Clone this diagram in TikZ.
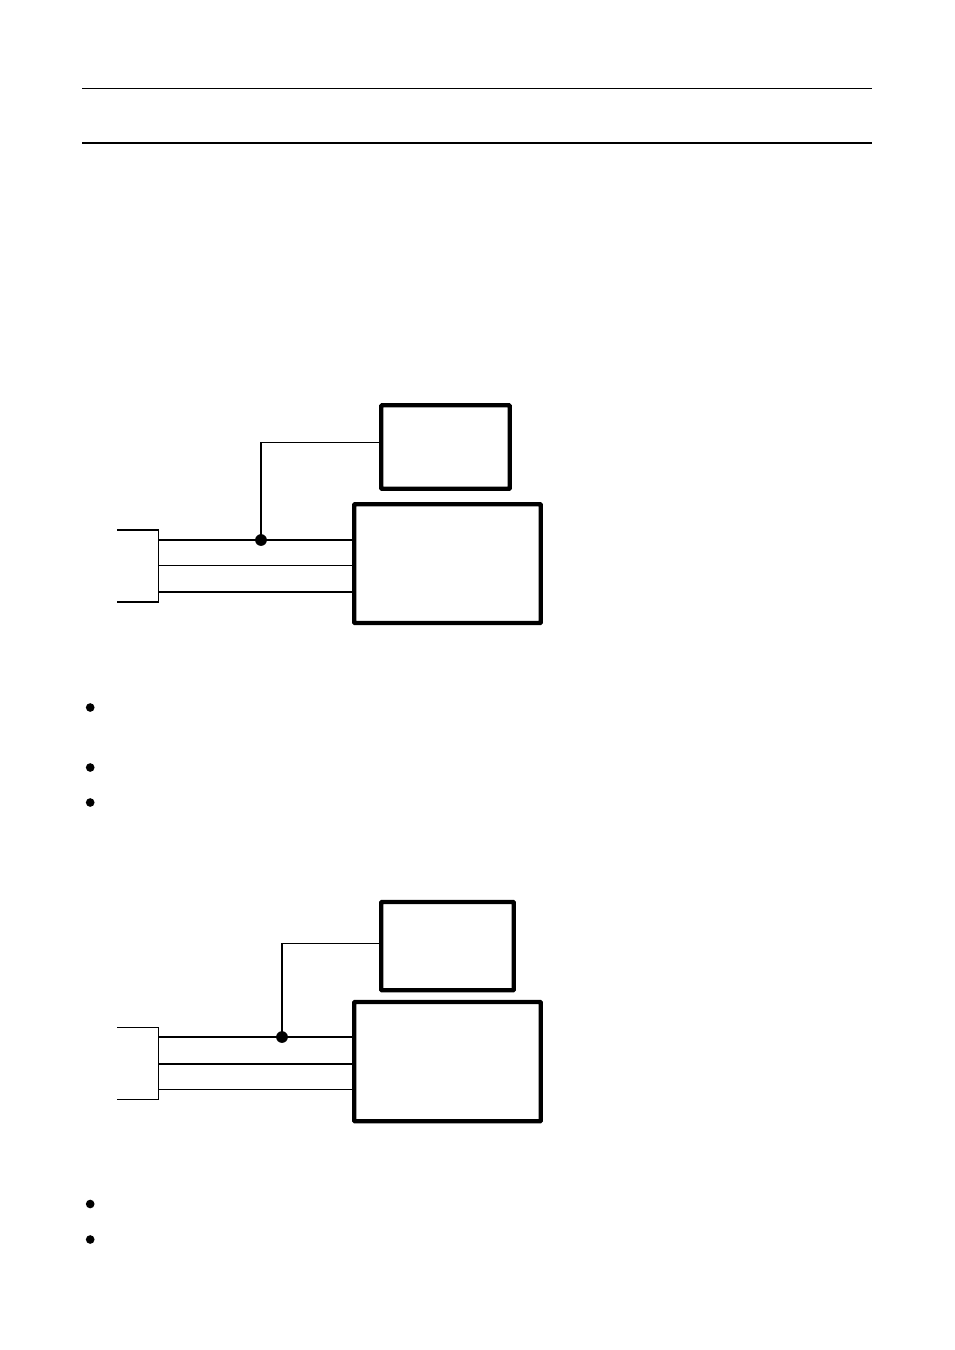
\documentclass[tikz,border=0pt]{standalone}
\begin{document}
\begin{tikzpicture}[x=0.75pt,y=-0.75pt,
  bigbox/.style={draw=black,line width=3.2pt,rounded corners=0.5pt,inner sep=0pt,outer sep=0pt,anchor=north west,fill=white},
  wirethin/.style={line width=0.9pt},
  wiremid/.style={line width=1.25pt},
  wirethick/.style={line width=1.6pt},
  leadh/.style={line width=0.9pt},
  leadv/.style={line width=1.3pt},
  junction/.style={circle,fill=black,draw=none,inner sep=0pt,minimum size=8.8pt},
  bulletdot/.style={circle,fill=black,draw=none,inner sep=0pt,minimum size=6.5pt}]
\useasboundingbox (0,0) rectangle (954,1350);
\fill[white] (0,0) rectangle (954,1350);
% header rules
\coordinate (r1a) at (82,88.5); \coordinate (r1b) at (872,88.5);
\coordinate (r2a) at (82,142.7); \coordinate (r2b) at (872,142.7);
\draw[line width=0.9pt] (r1a) -- (r1b);
\draw[line width=1.8pt] (r2a) -- (r2b);
% ---- first diagram
\coordinate (at) at (117,530); \coordinate (atc) at (158.5,530);
\coordinate (ab) at (117,601.7); \coordinate (abc) at (158.5,601.7);
\coordinate (aw1) at (158.5,540); \coordinate (aw2) at (158.5,565.3); \coordinate (aw3) at (158.5,591.8);
\coordinate (ac) at (261,442.3);
\node[bigbox,minimum width=128.4*0.75pt,minimum height=83.4*0.75pt] (a1) at (381.3,405.3) {};
\node[bigbox,minimum width=186.6*0.75pt,minimum height=118.8*0.75pt] (a2) at (354.2,504.2) {};
\draw[line width=1.25pt] (at) -- (atc);
\draw[line width=1.25pt] (abc) -- (ab);
\draw[line width=0.9pt] (atc) -- (abc);
\draw[wirethick] (aw1) -- (aw1-|a2.west);
\draw[wirethin] (aw2) -- (aw2-|a2.west);
\draw[wiremid] (aw3) -- (aw3-|a2.west);
\node[junction] (aj) at (261,540) {};
\draw[leadv] (aj.center) -- (ac);
\draw[leadh] (ac) -- (ac-|a1.west);
% ---- second diagram
\coordinate (bt) at (117,1027.3); \coordinate (btc) at (158.5,1027.3);
\coordinate (bb) at (117,1099.3); \coordinate (bbc) at (158.5,1099.3);
\coordinate (bw1) at (158.5,1036.9); \coordinate (bw2) at (158.5,1063.7); \coordinate (bw3) at (158.5,1089.3);
\coordinate (bc) at (282,943.3);
\node[bigbox,minimum width=132.4*0.75pt,minimum height=88.2*0.75pt] (b1) at (381.3,902) {};
\node[bigbox,minimum width=186.6*0.75pt,minimum height=119.2*0.75pt] (b2) at (354.2,1002) {};
\draw[line width=0.8pt] (bt) -- (btc) -- (bbc) -- (bb);
\draw[wirethick] (bw1) -- (bw1-|b2.west);
\draw[wirethick] (bw2) -- (bw2-|b2.west);
\draw[wirethin] (bw3) -- (bw3-|b2.west);
\node[junction] (bj) at (282,1037) {};
\draw[leadv] (bj.center) -- (bc);
\draw[leadh] (bc) -- (bc-|b1.west);
% ---- bullets
\node[bulletdot] (d1) at (90.2,707.5) {};
\node[bulletdot] (d2) at (90.2,767.5) {};
\node[bulletdot] (d3) at (90.2,802.5) {};
\node[bulletdot] (d4) at (90.2,1204) {};
\node[bulletdot] (d5) at (90.2,1239.5) {};
\end{tikzpicture}
\end{document}
